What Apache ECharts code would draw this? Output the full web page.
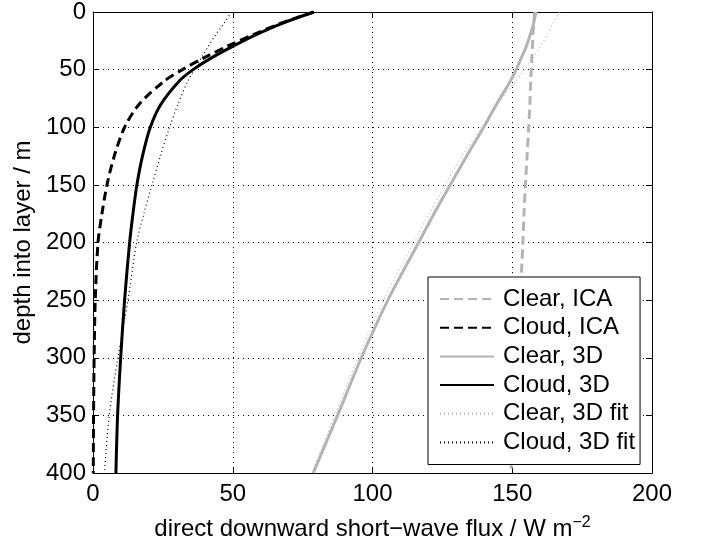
<!DOCTYPE html>
<html>
<head>
<meta charset="utf-8">
<script src="https://cdn.jsdelivr.net/npm/echarts@6/dist/echarts.min.js"></script>
<style>
  html, body { margin: 0; padding: 0; background: #fff; }
  #chart { width: 702px; height: 546px; }
</style>
</head>
<body>
<div id="chart"></div>
<script>
  // depth into layer (m), shared by every curve
  var depths = [0, 10, 20, 30, 40, 50, 60, 80, 100, 125, 150, 175, 200, 250, 300, 350, 400];

  // direct downward short-wave flux (W m^-2) at those depths
  var clearICA   = [158, 157.7, 157.4, 157.2, 157, 156.8, 156.6, 156.3, 155.9, 155.3, 154.7, 154.2, 153.8, 152.8, 151.7, 150.6, 149.5];
  var cloudICA   = [79, 67, 57, 47.8, 39.5, 32, 25.5, 16.5, 11.3, 7.6, 5, 3.2, 1.8, 0.8, 0.4, 0.2, 0.1];
  var clear3D    = [158.5, 157.6, 156.4, 155, 153.2, 151.4, 149.3, 144.4, 139.8, 133.7, 127.8, 122, 116.5, 105.5, 96, 87.5, 78.8];
  var cloud3D    = [79, 67.5, 58, 49.8, 42.2, 35.8, 30.8, 24.3, 20.5, 17.7, 15.7, 14.3, 13.1, 11.3, 9.9, 8.8, 8.2];
  var clear3Dfit = [167, 164.6, 162.5, 160, 157.4, 154.4, 151.2, 144.6, 139, 132, 126, 120.3, 114.8, 104, 94.8, 86.5, 78.3];
  var cloud3Dfit = [49.5, 46.8, 43.8, 41.2, 38.7, 36.3, 33.9, 30.4, 27.4, 24.1, 21.1, 18.2, 15.6, 12.5, 8.9, 5.8, 4.1];

  var xTicks = [0, 200, 50];   // min, max, step
  var yTicks = [0, 400, 50];

  var GRAY = '#b4b4b4';
  var FONT = 'Liberation Sans, Arial, sans-serif';

  function pairs(flux) {
    return depths.map(function (d, i) { return [flux[i], d]; });
  }

  function mkSeries(name, flux, color, width, type) {
    return {
      name: name,
      type: 'line',
      data: pairs(flux),
      symbol: 'none',
      smooth: 0.3,
      lineStyle: { color: color, width: width, type: type },
      itemStyle: { color: color }
    };
  }

  var chart = echarts.init(document.getElementById('chart'));

  var tickStyle = { inside: true, length: 6, lineStyle: { color: '#000' } };
  var lineAxis = { show: true, onZero: false, lineStyle: { color: '#000', width: 1 } };
  var gridLine = { show: true, lineStyle: { color: '#000', width: 1, type: [1, 4] } };

  var option = {
    animation: false,
    textStyle: { fontFamily: FONT },
    grid: { left: 93, right: 50, top: 8, bottom: 72 },
    xAxis: [{
      type: 'value',
      position: 'bottom',
      min: xTicks[0], max: xTicks[1], interval: xTicks[2],
      axisLine: lineAxis,
      axisTick: tickStyle,
      axisLabel: { color: '#000', fontSize: 24, margin: 9, fontFamily: FONT },
      splitLine: gridLine,
      name: '{t|direct downward short\u2212wave flux / W m}{s|\u22122}',
      nameLocation: 'middle',
      nameGap: 42,
      nameTextStyle: {
        rich: {
          t: { fontSize: 24, color: '#000', fontFamily: FONT },
          s: { fontSize: 16, color: '#000', fontFamily: FONT, padding: [0, 0, 12, 0] }
        }
      }
    }, {
      type: 'value',
      position: 'top',
      min: xTicks[0], max: xTicks[1], interval: xTicks[2],
      axisLine: lineAxis,
      axisTick: tickStyle,
      axisLabel: { show: false },
      splitLine: { show: false }
    }],
    yAxis: [{
      type: 'value',
      position: 'left',
      inverse: true,
      min: yTicks[0], max: yTicks[1], interval: yTicks[2],
      axisLine: lineAxis,
      axisTick: tickStyle,
      axisLabel: { color: '#000', fontSize: 24, margin: 7, fontFamily: FONT },
      splitLine: gridLine,
      name: 'depth into layer / m',
      nameLocation: 'middle',
      nameGap: 57,
      nameTextStyle: { fontSize: 24, color: '#000', fontFamily: FONT }
    }, {
      type: 'value',
      position: 'right',
      inverse: true,
      min: yTicks[0], max: yTicks[1], interval: yTicks[2],
      axisLine: lineAxis,
      axisTick: tickStyle,
      axisLabel: { show: false },
      splitLine: { show: false }
    }],
    legend: {
      orient: 'vertical',
      left: 428,
      top: 277,
      padding: [10, 5, 10, 11],
      itemWidth: 54,
      itemHeight: 14,
      itemGap: 4.7,
      backgroundColor: '#fff',
      borderColor: '#000',
      borderWidth: 1,
      borderRadius: 0,
      itemStyle: { opacity: 0 },
      textStyle: { fontSize: 24, lineHeight: 24, color: '#000', fontFamily: FONT, padding: [0, 0, 0, 4] },
      data: ['Clear, ICA', 'Cloud, ICA', 'Clear, 3D', 'Cloud, 3D', 'Clear, 3D fit', 'Cloud, 3D fit']
    },
    series: [
      mkSeries('Clear, ICA', clearICA, GRAY, 3, [9, 5]),
      mkSeries('Cloud, ICA', cloudICA, '#000', 3, [9, 5]),
      mkSeries('Clear, 3D', clear3D, GRAY, 3, 'solid'),
      mkSeries('Cloud, 3D', cloud3D, '#000', 3, 'solid'),
      mkSeries('Clear, 3D fit', clear3Dfit, GRAY, 1.2, [1, 3]),
      mkSeries('Cloud, 3D fit', cloud3Dfit, '#000', 1.2, [1, 3])
    ]
  };

  chart.setOption(option);
</script>
</body>
</html>
